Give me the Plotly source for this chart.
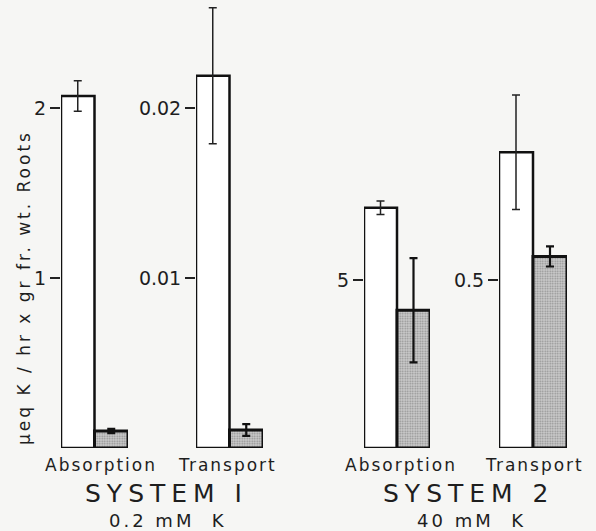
import plotly.graph_objects as go

# ---- data ----
panels = ["Absorption I", "Transport I", "Absorption II", "Transport II"]
control_vals = [2.07, 0.0219, 7.15, 0.88]
control_err = [0.09, 0.0040, 0.20, 0.17]
treated_vals = [0.10, 0.00106, 4.10, 0.57]
treated_err = [0.012, 0.00035, 1.55, 0.03]
tick_vals = [[1, 2], [0.01, 0.02], [5], [0.5]]
tick_text = [["1", "2"], ["0.01", "0.02"], ["5"], ["0.5"]]
y_tops = [2.635, 0.02635, 13.33, 1.333]
x_labels = ["Absorption", "Transport", "Absorption", "Transport"]
systems = ["SYSTEM I", "SYSTEM 2"]
concs = ["0.2 mM&nbsp; K", "40 mM&nbsp; K"]
y_title = "μeq K / hr x gr fr. wt. Roots"

W, H = 596, 531
BG = "#f6f6f4"
INK = "#1e1e1e"
FONT = "DejaVu Sans"
x_px = [(61, 128), (196, 263), (364, 430), (499, 567)]
base_px = 448


def spaced(text, px):
    return f'<span style="letter-spacing:{px}px">{text}</span>'


fig = go.Figure()
layout = dict(
    width=W, height=H, margin=dict(l=0, r=0, t=0, b=0),
    paper_bgcolor=BG, plot_bgcolor="rgba(0,0,0,0)", showlegend=False,
    font=dict(family=FONT, color=INK),
)
for i in range(4):
    xa = "x" if i == 0 else f"x{i+1}"
    ya = "y" if i == 0 else f"y{i+1}"
    fig.add_trace(go.Bar(
        x=[0], y=[control_vals[i]], width=[1], xaxis=xa, yaxis=ya,
        marker=dict(color="#ffffff", line=dict(color="#111", width=2.5)),
        error_y=dict(type="data", array=[control_err[i]], color="#222", thickness=1.5, width=4),
    ))
    fig.add_trace(go.Bar(
        x=[1], y=[treated_vals[i]], width=[1], xaxis=xa, yaxis=ya,
        marker=dict(color="#c2c2c2", line=dict(color="#111", width=3),
                    pattern=dict(shape=".", fgcolor="#8f8f8f", bgcolor="#cdcdcd",
                                 size=2.5, solidity=0.4, fillmode="replace")),
        error_y=dict(type="data", array=[treated_err[i]], color="#111", thickness=2.2, width=4),
    ))
    x0, x1 = x_px[i]
    layout["xaxis" if i == 0 else f"xaxis{i+1}"] = dict(
        domain=[x0 / W, x1 / W], range=[-0.5, 1.5], visible=False, fixedrange=True,
        anchor=ya,
    )
    layout["yaxis" if i == 0 else f"yaxis{i+1}"] = dict(
        domain=[(H - base_px) / H, 1], range=[0, y_tops[i]], anchor=xa,
        tickvals=tick_vals[i], ticktext=tick_text[i], ticks="outside",
        ticklen=10, tickwidth=2, tickcolor="#222", showgrid=False, zeroline=False,
        showline=False, tickfont=dict(size=19, family=FONT, color=INK),
    )
fig.update_layout(**layout)

ann = []
label_x = [101, 227, 401, 534]
for i in range(4):
    ann.append(dict(x=label_x[i] / W, y=1 - 465 / H, xref="paper", yref="paper",
                    text=spaced(x_labels[i], 2), showarrow=False,
                    font=dict(size=17, color=INK),
                    xanchor="center", yanchor="middle"))
sys_x = [166, 469]
conc_x = [168, 471]
for j in range(2):
    ann.append(dict(x=sys_x[j] / W, y=1 - 493 / H, xref="paper", yref="paper",
                    text=spaced(systems[j], 6), showarrow=False,
                    font=dict(size=25, color=INK, family=FONT),
                    xanchor="center", yanchor="middle"))
    ann.append(dict(x=conc_x[j] / W, y=1 - 520 / H, xref="paper", yref="paper",
                    text=spaced(concs[j], 3), showarrow=False,
                    font=dict(size=18, color=INK),
                    xanchor="center", yanchor="middle"))
ann.append(dict(x=24 / W, y=1 - 288 / H, xref="paper", yref="paper",
                text=spaced(y_title, 3),
                showarrow=False, textangle=-90, font=dict(size=17, color=INK),
                xanchor="center", yanchor="middle"))
fig.update_layout(annotations=ann)

fig.write_html("out.html")
